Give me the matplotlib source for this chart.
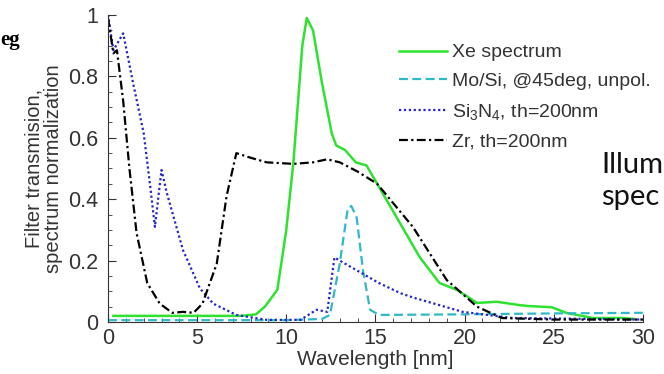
import numpy as np
import matplotlib
matplotlib.use('Agg')
import matplotlib.pyplot as plt
from matplotlib.ticker import MultipleLocator

# Xe spectrum (green)
xe_x = [0.3, 2, 4, 6, 7.5, 8.3, 8.8, 9.5, 10.0, 10.4, 10.9, 11.15, 11.5, 12.0, 12.55, 12.8,
        13.3, 13.9, 14.5, 15.1, 16.2, 17.5, 18.6, 19.6, 20.7, 21.8, 23.1, 23.6, 24.9, 25.7,
        27.2, 28.9, 29.5]
xe_y = [0.02, 0.02, 0.02, 0.02, 0.02, 0.025, 0.05, 0.105, 0.30, 0.52, 0.90, 0.99, 0.95, 0.78,
        0.615, 0.575, 0.56, 0.52, 0.51, 0.45, 0.34, 0.21, 0.127, 0.104, 0.062, 0.066, 0.055,
        0.052, 0.048, 0.03, 0.013, 0.013, 0.01]

# Mo/Si mirror (cyan dashed)
mo_x = [0, 5, 10, 12.0, 12.45, 13.0, 13.45, 13.65, 13.95, 14.3, 14.7, 15.2, 20, 25, 30]
mo_y = [0.006, 0.006, 0.006, 0.01, 0.023, 0.19, 0.37, 0.378, 0.34, 0.17, 0.04, 0.023, 0.025,
        0.028, 0.03]

# Si3N4 filter (blue dotted)
si_x = [0, 0.3, 0.85, 1.4, 2.0, 2.35, 2.63, 3.0, 3.3, 4.2, 5.15, 5.9, 7.2, 8.9, 10.8, 11.7,
        12.3, 12.7, 15.2, 16.4, 17.1, 19.9, 22.7, 30]
si_y = [1.0, 0.885, 0.94, 0.78, 0.615, 0.45, 0.31, 0.495, 0.42, 0.235, 0.11, 0.06, 0.023,
        0.007, 0.007, 0.04, 0.033, 0.21, 0.127, 0.094, 0.08, 0.033, 0.013, 0.008]

# Zr filter (black dash-dot)
zr_x = [0, 0.3, 0.5, 0.85, 1.2, 1.6, 2.2, 2.9, 3.6, 4.2, 4.8, 5.3, 6.1, 6.65, 7.2, 8.0, 8.9,
        10.4, 11.5, 12.3, 13.0, 14.0, 15.1, 17.1, 19.0, 20.7, 22.1, 25, 30]
zr_y = [0.99, 0.875, 0.885, 0.72, 0.5, 0.29, 0.127, 0.06, 0.03, 0.033, 0.03, 0.06, 0.19, 0.41,
        0.55, 0.535, 0.52, 0.515, 0.52, 0.53, 0.52, 0.49, 0.45, 0.31, 0.137, 0.05, 0.013,
        0.008, 0.008]

labels = ['Xe spectrum', 'Mo/Si, @45deg, unpol.', 'Si$_3$N$_4$, th=200nm', 'Zr, th=200nm']
y_ticks = [0, 0.2, 0.4, 0.6, 0.8, 1]
y_ticklabels = ['0', '0.2', '0.4', '0.6', '0.8', '1']
x_ticks = [0, 5, 10, 15, 20, 25, 30]

plt.rcParams['font.family'] = ['Liberation Sans', 'DejaVu Sans']
plt.rcParams['mathtext.default'] = 'regular'

fig = plt.figure(figsize=(6.64, 3.74), dpi=100)
ax = fig.add_axes([0.1627, 0.139, 0.8053, 0.821])

ax.plot(xe_x, xe_y, color='#2fe22f', lw=1.8, label=labels[0])
ax.plot(mo_x, mo_y, color='#30b8c8', lw=1.6, ls=(0, (4, 2)), label=labels[1])
ax.plot(si_x, si_y, color='#2424c8', lw=1.6, ls=(0, (1, 1.2)), label=labels[2])
ax.plot(zr_x, zr_y, color='black', lw=1.6, ls=(0, (4, 1.5, 1, 1.5)), label=labels[3])

ax.set_xlim(0, 30)
ax.set_ylim(0, 1)
ax.set_xticks(x_ticks)
ax.set_yticks(y_ticks)
ax.set_yticklabels(y_ticklabels)
ax.xaxis.set_minor_locator(MultipleLocator(1))
ax.yaxis.set_minor_locator(MultipleLocator(0.05))
ax.tick_params(which='both', direction='in', colors='#333333', labelsize=15.5)
ax.tick_params(which='major', length=6, width=0.8)
ax.tick_params(which='minor', length=3, width=0.6)
ax.tick_params(axis='y', pad=7)
ax.tick_params(axis='x', pad=4)
for s in ['top', 'right']:
    ax.spines[s].set_visible(False)
for s in ['left', 'bottom']:
    ax.spines[s].set_color('#333333')

ax.set_xlabel('Wavelength [nm]', fontsize=15, color='#333333', labelpad=1)
ax.set_ylabel('Filter transmision,\nspectrum normalization', fontsize=14.5, color='#333333',
              linespacing=1.0, labelpad=4)

leg = ax.legend(loc='upper left', bbox_to_anchor=(389 / 664, 1 - 34 / 374),
                bbox_transform=fig.transFigure, frameon=False, fontsize=14,
                handlelength=2.5, handletextpad=0.25, labelspacing=0.58, borderpad=0)
for t in leg.get_texts():
    t.set_color('#333333')

fig.text(0, 1 - 45 / 374, 'eg', fontsize=15, fontweight='bold', family='Liberation Serif',
         ha='left', va='baseline')
fig.text(601 / 664, 1 - 205 / 374, 'Illum\nspec', fontsize=21, family='Lato',
         ha='left', va='baseline', linespacing=1.3, color='#111111')

fig.savefig('out.png', dpi=100)
